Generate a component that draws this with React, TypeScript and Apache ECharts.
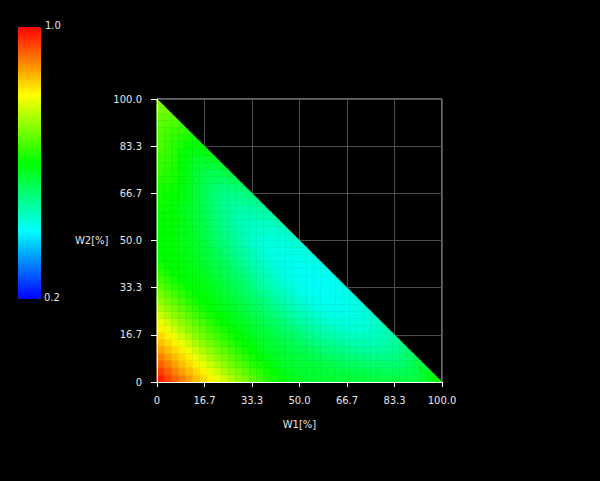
import React, { useEffect, useRef } from "react";
import * as echarts from "echarts";

// Cell centres (W1[%] and W2[%]) of the triangular mixing grid
const w1Centers = [
  1.25, 3.75, 6.25, 8.75, 11.25, 13.75, 16.25, 18.75, 21.25, 23.75,
  26.25, 28.75, 31.25, 33.75, 36.25, 38.75, 41.25, 43.75, 46.25, 48.75,
  51.25, 53.75, 56.25, 58.75, 61.25, 63.75, 66.25, 68.75, 71.25, 73.75,
  76.25, 78.75, 81.25, 83.75, 86.25, 88.75, 91.25, 93.75, 96.25, 98.75,
];
const w2Centers = [
  1.25, 3.75, 6.25, 8.75, 11.25, 13.75, 16.25, 18.75, 21.25, 23.75,
  26.25, 28.75, 31.25, 33.75, 36.25, 38.75, 41.25, 43.75, 46.25, 48.75,
  51.25, 53.75, 56.25, 58.75, 61.25, 63.75, 66.25, 68.75, 71.25, 73.75,
  76.25, 78.75, 81.25, 83.75, 86.25, 88.75, 91.25, 93.75, 96.25, 98.75,
];

// Values: one row per W2 centre (bottom to top),
// one entry per W1 centre (left to right), only where W1 + W2 <= 100
const valueRows: number[][] = [
  [0.975, 0.95, 0.925, 0.9, 0.875, 0.85, 0.83, 0.81, 0.785, 0.76, 0.735, 0.71, 0.69, 0.67, 0.65, 0.63, 0.615, 0.6, 0.586, 0.571, 0.566, 0.562, 0.562, 0.563, 0.561, 0.559, 0.557, 0.554, 0.552, 0.551, 0.548, 0.546, 0.546, 0.546, 0.545, 0.546, 0.553, 0.562, 0.581, 0.598],
  [0.95, 0.925, 0.9, 0.875, 0.85, 0.83, 0.81, 0.785, 0.76, 0.735, 0.71, 0.69, 0.67, 0.65, 0.63, 0.615, 0.6, 0.586, 0.571, 0.566, 0.561, 0.56, 0.559, 0.555, 0.553, 0.549, 0.546, 0.542, 0.54, 0.537, 0.534, 0.532, 0.532, 0.531, 0.532, 0.538, 0.546, 0.564, 0.58],
  [0.925, 0.9, 0.875, 0.85, 0.83, 0.81, 0.785, 0.76, 0.735, 0.71, 0.69, 0.67, 0.65, 0.63, 0.615, 0.6, 0.586, 0.572, 0.565, 0.559, 0.557, 0.554, 0.549, 0.545, 0.54, 0.534, 0.53, 0.526, 0.522, 0.518, 0.516, 0.515, 0.513, 0.513, 0.519, 0.527, 0.543, 0.558],
  [0.9, 0.875, 0.85, 0.83, 0.81, 0.785, 0.76, 0.735, 0.71, 0.69, 0.67, 0.65, 0.63, 0.615, 0.6, 0.586, 0.572, 0.565, 0.558, 0.553, 0.548, 0.542, 0.537, 0.53, 0.523, 0.517, 0.512, 0.507, 0.502, 0.498, 0.496, 0.495, 0.494, 0.499, 0.506, 0.52, 0.534],
  [0.875, 0.85, 0.83, 0.81, 0.785, 0.76, 0.735, 0.71, 0.69, 0.67, 0.65, 0.63, 0.615, 0.6, 0.587, 0.573, 0.565, 0.557, 0.55, 0.543, 0.536, 0.529, 0.521, 0.512, 0.505, 0.498, 0.492, 0.486, 0.482, 0.479, 0.477, 0.476, 0.481, 0.487, 0.499, 0.511],
  [0.85, 0.83, 0.81, 0.785, 0.76, 0.735, 0.71, 0.69, 0.67, 0.65, 0.63, 0.615, 0.6, 0.587, 0.574, 0.564, 0.556, 0.548, 0.539, 0.53, 0.523, 0.513, 0.503, 0.494, 0.486, 0.479, 0.472, 0.467, 0.463, 0.461, 0.46, 0.464, 0.469, 0.48, 0.49],
  [0.83, 0.81, 0.785, 0.76, 0.735, 0.71, 0.69, 0.67, 0.65, 0.63, 0.615, 0.6, 0.588, 0.575, 0.565, 0.556, 0.546, 0.536, 0.526, 0.517, 0.506, 0.495, 0.485, 0.476, 0.468, 0.46, 0.454, 0.45, 0.447, 0.446, 0.449, 0.454, 0.464, 0.473],
  [0.81, 0.785, 0.76, 0.735, 0.71, 0.69, 0.67, 0.65, 0.63, 0.615, 0.6, 0.588, 0.576, 0.566, 0.556, 0.545, 0.534, 0.523, 0.513, 0.501, 0.488, 0.477, 0.468, 0.459, 0.45, 0.444, 0.438, 0.436, 0.434, 0.437, 0.441, 0.45, 0.458],
  [0.785, 0.76, 0.735, 0.71, 0.69, 0.67, 0.65, 0.63, 0.615, 0.6, 0.589, 0.577, 0.566, 0.557, 0.545, 0.532, 0.521, 0.511, 0.497, 0.484, 0.472, 0.461, 0.452, 0.443, 0.436, 0.43, 0.426, 0.425, 0.427, 0.431, 0.439, 0.446],
  [0.76, 0.735, 0.71, 0.69, 0.67, 0.65, 0.63, 0.615, 0.6, 0.59, 0.578, 0.568, 0.558, 0.545, 0.532, 0.52, 0.509, 0.495, 0.481, 0.468, 0.457, 0.447, 0.437, 0.429, 0.423, 0.42, 0.418, 0.42, 0.423, 0.43, 0.437],
  [0.735, 0.71, 0.69, 0.67, 0.65, 0.63, 0.615, 0.6, 0.591, 0.58, 0.57, 0.559, 0.547, 0.533, 0.521, 0.509, 0.494, 0.479, 0.466, 0.454, 0.444, 0.433, 0.425, 0.418, 0.415, 0.412, 0.414, 0.418, 0.424, 0.43],
  [0.71, 0.69, 0.67, 0.65, 0.63, 0.615, 0.6, 0.592, 0.582, 0.572, 0.562, 0.549, 0.535, 0.522, 0.51, 0.494, 0.479, 0.465, 0.453, 0.442, 0.431, 0.422, 0.415, 0.411, 0.409, 0.41, 0.413, 0.419, 0.425],
  [0.69, 0.67, 0.65, 0.63, 0.615, 0.6, 0.593, 0.584, 0.574, 0.564, 0.551, 0.537, 0.525, 0.512, 0.496, 0.48, 0.466, 0.453, 0.442, 0.43, 0.421, 0.413, 0.41, 0.406, 0.408, 0.41, 0.415, 0.421],
  [0.67, 0.65, 0.63, 0.615, 0.6, 0.594, 0.586, 0.577, 0.568, 0.555, 0.541, 0.528, 0.515, 0.499, 0.482, 0.468, 0.455, 0.443, 0.431, 0.421, 0.413, 0.409, 0.406, 0.406, 0.408, 0.413, 0.418],
  [0.65, 0.63, 0.615, 0.6, 0.595, 0.588, 0.58, 0.571, 0.559, 0.545, 0.533, 0.52, 0.503, 0.486, 0.471, 0.457, 0.445, 0.432, 0.422, 0.414, 0.41, 0.407, 0.407, 0.408, 0.412, 0.417],
  [0.63, 0.615, 0.6, 0.597, 0.591, 0.583, 0.576, 0.564, 0.55, 0.538, 0.525, 0.508, 0.49, 0.476, 0.462, 0.448, 0.435, 0.424, 0.416, 0.411, 0.408, 0.409, 0.41, 0.412, 0.416],
  [0.615, 0.6, 0.598, 0.593, 0.587, 0.58, 0.569, 0.556, 0.544, 0.531, 0.514, 0.496, 0.481, 0.467, 0.453, 0.439, 0.428, 0.419, 0.414, 0.411, 0.411, 0.413, 0.415, 0.416],
  [0.6, 0.599, 0.596, 0.591, 0.585, 0.575, 0.563, 0.551, 0.539, 0.521, 0.503, 0.488, 0.473, 0.459, 0.444, 0.432, 0.423, 0.418, 0.414, 0.415, 0.416, 0.419, 0.42],
  [0.6, 0.598, 0.594, 0.589, 0.581, 0.57, 0.559, 0.547, 0.53, 0.511, 0.497, 0.481, 0.466, 0.451, 0.438, 0.428, 0.422, 0.419, 0.42, 0.422, 0.424, 0.426],
  [0.6, 0.597, 0.594, 0.587, 0.577, 0.568, 0.557, 0.539, 0.521, 0.506, 0.491, 0.474, 0.459, 0.445, 0.434, 0.428, 0.425, 0.425, 0.427, 0.431, 0.431],
  [0.599, 0.598, 0.593, 0.584, 0.576, 0.566, 0.549, 0.531, 0.517, 0.501, 0.485, 0.468, 0.453, 0.442, 0.435, 0.431, 0.432, 0.434, 0.437, 0.44],
  [0.601, 0.598, 0.592, 0.585, 0.577, 0.561, 0.543, 0.529, 0.514, 0.496, 0.479, 0.463, 0.451, 0.443, 0.439, 0.439, 0.441, 0.445, 0.447],
  [0.602, 0.598, 0.594, 0.587, 0.572, 0.555, 0.542, 0.527, 0.509, 0.491, 0.474, 0.461, 0.452, 0.448, 0.448, 0.45, 0.454, 0.456],
  [0.603, 0.602, 0.598, 0.584, 0.568, 0.557, 0.543, 0.524, 0.506, 0.488, 0.473, 0.463, 0.458, 0.458, 0.46, 0.463, 0.466],
  [0.608, 0.607, 0.595, 0.581, 0.572, 0.559, 0.541, 0.522, 0.503, 0.487, 0.476, 0.469, 0.468, 0.471, 0.474, 0.477],
  [0.613, 0.606, 0.594, 0.587, 0.576, 0.558, 0.539, 0.519, 0.503, 0.49, 0.482, 0.481, 0.483, 0.487, 0.489],
  [0.613, 0.605, 0.602, 0.593, 0.576, 0.558, 0.538, 0.521, 0.505, 0.496, 0.493, 0.496, 0.5, 0.503],
  [0.614, 0.615, 0.61, 0.595, 0.577, 0.558, 0.54, 0.523, 0.512, 0.507, 0.509, 0.514, 0.517],
  [0.625, 0.624, 0.613, 0.597, 0.578, 0.56, 0.541, 0.529, 0.523, 0.522, 0.527, 0.532],
  [0.635, 0.628, 0.616, 0.599, 0.581, 0.561, 0.546, 0.539, 0.537, 0.54, 0.546],
  [0.64, 0.633, 0.619, 0.603, 0.583, 0.565, 0.556, 0.553, 0.556, 0.559],
  [0.646, 0.637, 0.624, 0.604, 0.586, 0.573, 0.568, 0.571, 0.574],
  [0.651, 0.642, 0.626, 0.608, 0.593, 0.583, 0.585, 0.59],
  [0.657, 0.644, 0.629, 0.615, 0.602, 0.598, 0.602],
  [0.659, 0.647, 0.636, 0.624, 0.617, 0.613],
  [0.662, 0.653, 0.644, 0.639, 0.631],
  [0.668, 0.661, 0.658, 0.653],
  [0.676, 0.675, 0.673],
  [0.691, 0.69],
  [0.706],
];

const axisMin = 0;
const axisMax = 100;
const tickCount = 6;
const colorMin = 0.2;
const colorMax = 1.0;
const colorStops = ["#0000ff", "#00ffff", "#00ff00", "#ffff00", "#ff0000"];
const xName = "W1[%]";
const yName = "W2[%]";
const scaleLabels = ["1.0", "0.2"];

const FONT = "DejaVu Sans";
const LABEL_COLOR = "#e6e6e6";

export default function App() {
  const ref = useRef<HTMLDivElement>(null);

  useEffect(() => {
    if (!ref.current) return;
    const chart = echarts.init(ref.current, undefined, { renderer: "svg" });

    const data: number[][] = [];
    valueRows.forEach((row, j) => {
      row.forEach((v, i) => {
        data.push([w1Centers[i], w2Centers[j], v]);
      });
    });
    const half = (w1Centers[1] - w1Centers[0]) / 2;
    const interval = (axisMax - axisMin) / tickCount;
    const fmt = (v: number) => (Math.abs(v) < 1e-9 ? "0" : v.toFixed(1));

    const hiddenAxis = {
      type: "value" as const,
      min: axisMin,
      max: axisMax,
      interval,
      axisLine: { show: false },
      axisTick: { show: false },
      axisLabel: { show: false },
      splitLine: { show: true, lineStyle: { color: "#4d4d4d", width: 1 } },
      z: 0,
    };

    chart.setOption({
      animation: false,
      backgroundColor: "#000000",
      grid: {
        left: 157,
        right: 158,
        top: 99,
        bottom: 99,
        show: true,
        borderColor: "#cfcfcf",
        borderWidth: 1,
        backgroundColor: "transparent",
      },
      visualMap: {
        type: "continuous",
        min: colorMin,
        max: colorMax,
        dimension: 2,
        seriesIndex: 0,
        orient: "vertical",
        left: 18,
        top: 27,
        itemWidth: 23,
        itemHeight: 272,
        padding: 0,
        calculable: false,
        showLabel: false,
        inRange: { color: colorStops },
      },
      xAxis: [
        { ...hiddenAxis, position: "top" },
        {
          type: "value",
          min: axisMin,
          max: axisMax,
          interval,
          position: "bottom",
          name: xName,
          nameLocation: "middle",
          nameGap: 37,
          nameTextStyle: { color: LABEL_COLOR, fontFamily: FONT, fontSize: 10 },
          axisLine: { show: true, onZero: false, lineStyle: { color: "#ffffff", width: 1 } },
          axisTick: { show: true, length: 5, lineStyle: { color: "#ffffff" } },
          axisLabel: { color: LABEL_COLOR, fontFamily: FONT, fontSize: 10, margin: 13, formatter: fmt },
          splitLine: { show: false },
          z: 5,
        },
      ],
      yAxis: [
        { ...hiddenAxis, position: "right" },
        {
          type: "value",
          min: axisMin,
          max: axisMax,
          interval,
          position: "left",
          name: yName,
          nameLocation: "middle",
          nameRotate: 0,
          nameGap: 48,
          nameTextStyle: { color: LABEL_COLOR, fontFamily: FONT, fontSize: 10 },
          axisLine: { show: true, onZero: false, lineStyle: { color: "#ffffff", width: 1 } },
          axisTick: { show: true, length: 6, lineStyle: { color: "#ffffff" } },
          axisLabel: { color: LABEL_COLOR, fontFamily: FONT, fontSize: 10, margin: 15, formatter: fmt },
          splitLine: { show: false },
          z: 5,
        },
      ],
      series: [
        {
          type: "custom",
          coordinateSystem: "cartesian2d",
          xAxisIndex: 0,
          yAxisIndex: 0,
          data,
          encode: { x: 0, y: 1 },
          z: 2,
          renderItem: (params: any, api: any) => {
            const x = api.value(0);
            const y = api.value(1);
            const color = api.visual("color");
            const style = { fill: color, stroke: color, lineWidth: 0.6 };
            if (x + y > axisMax - half) {
              const p1 = api.coord([x - half, y - half]);
              const p2 = api.coord([x + half, y - half]);
              const p3 = api.coord([x - half, y + half]);
              return { type: "polygon", shape: { points: [p1, p2, p3] }, style };
            }
            const tl = api.coord([x - half, y + half]);
            const br = api.coord([x + half, y - half]);
            return {
              type: "rect",
              shape: { x: tl[0], y: tl[1], width: br[0] - tl[0], height: br[1] - tl[1] },
              style,
            };
          },
        },
      ],
      graphic: [
        {
          type: "text",
          left: 45,
          top: 20,
          style: { text: scaleLabels[0], fill: LABEL_COLOR, fontFamily: FONT, fontSize: 10 },
        },
        {
          type: "text",
          left: 44,
          top: 292,
          style: { text: scaleLabels[1], fill: LABEL_COLOR, fontFamily: FONT, fontSize: 10 },
        },
      ],
    });

    return () => chart.dispose();
  }, []);

  return (
    <div
      ref={ref}
      style={{ position: "fixed", left: 0, top: 0, width: 600, height: 481, background: "#000" }}
    />
  );
}
